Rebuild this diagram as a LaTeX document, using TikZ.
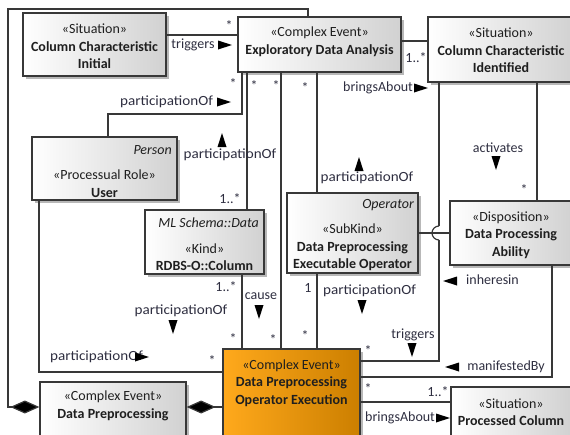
\documentclass[tikz,border=0pt]{standalone}
\usepackage{fontspec}
\setmainfont{Carlito}
\usetikzlibrary{shadows,arrows.meta,calc}
\definecolor{edge}{HTML}{383838}
\definecolor{lbl}{HTML}{2E2E40}
\definecolor{orA}{HTML}{FFA91C}
\definecolor{orB}{HTML}{CC7F00}

\tikzset{
  pics/arrR/.style={code={\fill[black] (-7,-4.5) -- (7,0) -- (-7,4.5) -- cycle;}},
  pics/arrL/.style={code={\fill[black] (7,-4.5) -- (-7,0) -- (7,4.5) -- cycle;}},
  pics/arrU/.style={code={\fill[black] (-4.5,7) -- (0,-7) -- (4.5,7) -- cycle;}},
  pics/arrD/.style={code={\fill[black] (-4.5,-7) -- (0,7) -- (4.5,-7) -- cycle;}},
}

\begin{document}
\begin{tikzpicture}[x=1pt,y=-1pt,
  font=\fontsize{14}{17.5}\selectfont,
  box/.style={draw=edge, line width=1.3pt, rectangle, inner sep=0pt,
    left color=white, right color=black!18,
    drop shadow={shadow xshift=3pt, shadow yshift=-3pt, fill=black, opacity=0.28}},
  obox/.style={box, left color=orA, right color=orB},
  txt/.style={align=center, inner sep=0pt, text=black!88},
  ital/.style={inner sep=0pt, anchor=east, text=black!88, font=\fontsize{14}{17.5}\selectfont\itshape},
  conn/.style={draw=edge, line width=1.2pt},
  comp/.style={conn, {Diamond[length=29pt,width=13pt,fill=black]}-},
  lab/.style={inner sep=0pt, text=lbl},
  wide/.style={xscale=1.08, transform shape},
]
\path[use as bounding box, clip] (0,0) rectangle (570,434);

% ---- classes ----
\node[box, minimum width=143pt, minimum height=63pt] (cciinit) at (94.5,44.5) {};
\node[box, minimum width=163pt, minimum height=55pt] (eda) at (319.5,44.5) {};
\node[box, minimum width=146pt, minimum height=65pt] (cciid) at (501,49.5) {};
\node[box, minimum width=145pt, minimum height=63pt] (user) at (104.5,168.5) {};
\node[box, minimum width=119pt, minimum height=64pt] (col) at (204.5,242) {};
\node[box, minimum width=131pt, minimum height=80pt] (execop) at (352.5,233) {};
\node[box, minimum width=122pt, minimum height=64pt] (disp) at (511,233) {};
\node[obox, minimum width=137pt, minimum height=88pt] (opexec) at (291.5,393) {};
\node[box, minimum width=146pt, minimum height=55pt] (dprep) at (113,409.5) {};
\node[box, minimum width=120pt, minimum height=50pt] (proccol) at (511,412) {};

% ---- class texts ----
\node[txt] (cciinit-t) at (94.5,46.5) {«Situation»\\\textbf{Column Characteristic}\\\textbf{Initial}};
\node[txt] (eda-t) at (319.5,41.5) {«Complex Event»\\\textbf{Exploratory Data Analysis}};
\node[txt] (cciid-t) at (501,50.5) {«Situation»\\\textbf{Column Characteristic}\\\textbf{Identified}};
\node[ital] (user-s) at (172,150) {Person};
\node[txt] (user-t) at (104.5,183.5) {«Processual Role»\\\textbf{User}};
\node[ital] (col-s) at (259,223) {ML Schema::Data};
\node[txt] (col-t) at (204.5,257) {«Kind»\\\textbf{RDBS-O::Column}};
\node[ital] (execop-s) at (414,205) {Operator};
\node[txt] (execop-t) at (352.5,247.5) {«SubKind»\\\textbf{Data Preprocessing}\\\textbf{Executable Operator}};
\node[txt] (disp-t) at (511,235) {«Disposition»\\\textbf{Data Processing}\\\textbf{Ability}};
\node[txt] (opexec-t) at (291.5,383) {«Complex Event»\\\textbf{Data Preprocessing}\\\textbf{Operator Execution}};
\node[txt] (dprep-t) at (113,406) {«Complex Event»\\\textbf{Data Preprocessing}};
\node[txt] (proccol-t) at (511,412) {«Situation»\\\textbf{Processed Column}};

% ---- bend points and routing columns/rows ----
\coordinate (f1) at (8,407);
\coordinate (f2) at (8,9);
\coordinate (f3) at (308,9);
\coordinate (g1) at (200,407);
\coordinate (t1) at (200,35);
\coordinate (u1) at (108,114);
\coordinate (u2) at (242,114);
\coordinate (c1) at (247,150);
\coordinate (c2) at (242,300);
\coordinate (e1) at (281,200);
\coordinate (e2) at (317,150);
\coordinate (b1) at (415,41);
\coordinate (k1) at (439,361);
\coordinate (hop) at (439,233);
\coordinate (hopA) at (439,226);
\coordinate (hopB) at (439,240);
\coordinate (a1) at (537,150);
\coordinate (h1) at (430,233);
\coordinate (m1) at (552,377);
\coordinate (u3) at (39,372);
\coordinate (p1) at (400,402);

% ---- connectors ----
\draw[comp] (dprep.west |- f1) -- (f1) -- (f2) -- (f3) -- (eda.north -| f3);
\draw[comp] (dprep.east |- g1) -- (opexec.west |- g1);
\draw[conn] (cciinit.east |- t1) -- (eda.west |- t1);
\draw[conn] (user.north -| u1) -- (u1) -- (u2) -- (eda.south -| u2);
\draw[conn] (col.north -| c1) -- (eda.south -| c1);
\draw[conn] (eda.south -| e1) -- (opexec.north -| e1);
\draw[conn] (eda.south -| e2) -- (execop.north -| e2);
\draw[conn] (eda.east |- b1) -- (cciid.west |- b1);
% triggers: straight runs, with a hop where it crosses inheresin
\draw[conn] (cciid.south -| k1) -- (hopA) (hopB) -- (k1) -- (opexec.east |- k1);
\draw[conn] (hopA) arc[start angle=270, end angle=90, radius=7];
\draw[conn] (cciid.south -| a1) -- (disp.north -| a1);
\draw[conn] (execop.east |- h1) -- (disp.west |- h1);
\draw[conn] (disp.south -| m1) -- (m1) -- (opexec.east |- m1);
\draw[conn] (execop.south -| e2) -- (opexec.north -| e2);
\draw[conn] (col.south -| c2) -- (opexec.north -| c2);
\draw[conn] (user.south -| u3) -- (u3) -- (opexec.west |- u3);
\draw[conn] (opexec.east |- p1) -- (proccol.west |- p1);

% ---- connector labels ----
\node[lab] (l-trig1) at (193,45) {triggers};
\pic at (225,45) {arrR};
\node[lab] at (229,26) (m-trig1) {*};

\node[lab, wide, anchor=west] (l-upart1) at (120,102) {participationOf};
\pic at (224,102) {arrR};
\node[lab] (m-upart1) at (233,84) {*};

\node[lab, wide] (l-cpart1) at (230,155) {participationOf};
\pic at (222,140) {arrU};
\node[lab] (m-cpart1a) at (230,199) {1..*};
\node[lab] (m-cpart1b) at (254,86) {*};
\node[lab] (m-eo1) at (276,86) {*};
\node[lab] (m-eo2) at (305,88) {*};

\node[lab, wide] (l-epart) at (367,178) {participationOf};
\pic at (359,164) {arrU};

\node[lab] (m-brA) at (416,58) {1..*};
\node[lab, anchor=west] (l-brA) at (343,88) {bringsAbout};
\pic at (421,88) {arrR};

\node[lab] (l-act) at (498,148) {activates};
\pic at (496,163) {arrD};
\node[lab] (m-act) at (524,190) {*};

\node[lab] (l-inh) at (492.5,280) {inheresin};
\pic at (450,281) {arrL};

\node[lab] (m-ep1) at (308,288) {1};
\node[lab, wide, anchor=west] (l-ep) at (323,291) {participationOf};
\pic at (362,307) {arrD};
\node[lab] (m-ep2) at (305,336) {*};

\node[lab] (l-trig2) at (413,335) {triggers};
\pic at (412,350) {arrD};
\node[lab] (m-trig2) at (368,351) {*};

\node[lab] (l-man) at (506,367) {manifestedBy};
\pic at (452,367) {arrL};

\node[lab] (m-brB1) at (368,389) {*};
\node[lab] (m-brB2) at (438,392) {1..*};
\node[lab, anchor=west] (l-brB) at (365,418) {bringsAbout};
\pic at (443,418) {arrR};

\node[lab] (m-cause1) at (226,287) {1..*};
\node[lab] (l-cause) at (261,296) {cause};
\pic at (259,312) {arrD};
\node[lab, wide] (l-cpart2) at (181,311) {participationOf};
\pic at (173,327) {arrD};
\node[lab] (m-cause2) at (233,339) {*};
\node[lab] (m-eo3) at (273,340) {*};

\node[lab, wide, anchor=west] (l-upart2) at (50,357) {participationOf};
\pic at (142,357) {arrR};
\node[lab] (m-upart2) at (212,361) {*};
\end{tikzpicture}
\end{document}
